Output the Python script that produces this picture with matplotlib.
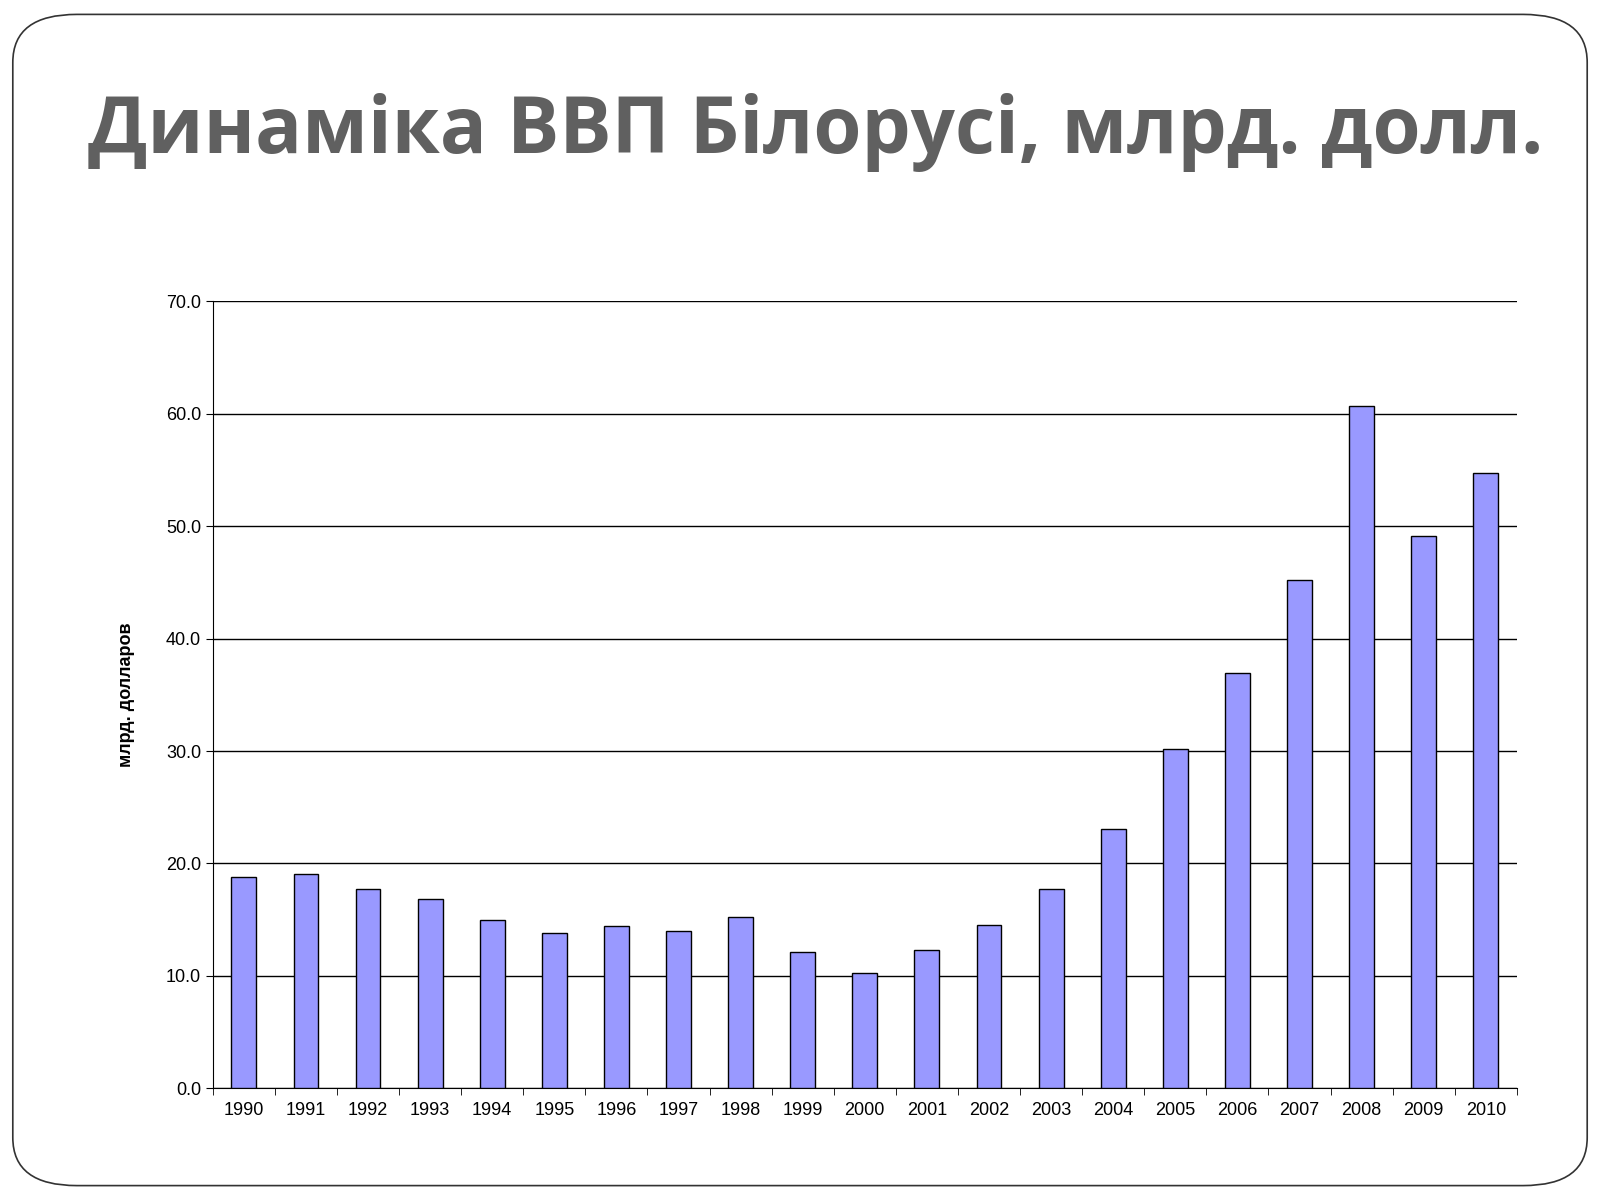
import matplotlib
matplotlib.use("Agg")
import matplotlib.pyplot as plt
from matplotlib.patches import FancyBboxPatch

years = [str(y) for y in range(1990, 2011)]
gdp = [18.8, 19.1, 17.7, 16.8, 15.0, 13.8, 14.4, 14.0, 15.2, 12.1, 10.3,
       12.3, 14.5, 17.7, 23.1, 30.2, 36.9, 45.2, 60.7, 49.1, 54.7]
title = "Динаміка ВВП Білорусі, млрд. долл."
ylabel = "млрд. долларов"

fig = plt.figure(figsize=(16, 12), dpi=100)
fig.patch.set_facecolor("white")
fig.patches.append(FancyBboxPatch((0.008, 0.012), 0.984, 0.976,
                                  boxstyle="round,pad=0,rounding_size=0.04",
                                  transform=fig.transFigure, fill=False,
                                  edgecolor="#333333", linewidth=1.2))
fig.text(0.51, 0.89, title, ha="center", va="center", fontsize=56,
         fontweight="bold", color="#606060", family="Open Sans")

ax = fig.add_axes([0.133, 0.093, 0.815, 0.656])
x = range(len(years))
ax.bar(x, gdp, width=0.4, color="#9999FF", edgecolor="black", linewidth=1, zorder=3)
ax.set_xlim(-0.5, len(years) - 0.5)
ax.set_ylim(0, 70)
ax.set_yticks(range(0, 71, 10))
ax.set_yticklabels([f"{v:.1f}" for v in range(0, 71, 10)], family="Liberation Sans", fontsize=13)
ax.set_xticks(x)
ax.set_xticklabels(years, family="Liberation Sans", fontsize=13)
ax.set_xticks([i - 0.5 for i in range(len(years) + 1)], minor=True)
ax.tick_params(axis="x", which="major", length=0, pad=10)
ax.tick_params(axis="x", which="minor", length=5, direction="out")
ax.tick_params(axis="y", length=5)
ax.grid(axis="y", color="black", linewidth=1, zorder=0)
for s in ["top", "right"]:
    ax.spines[s].set_visible(False)
ax.set_ylabel(ylabel, fontsize=13, fontweight="bold", family="Liberation Sans", labelpad=22)
fig.savefig("out.png", dpi=100)
